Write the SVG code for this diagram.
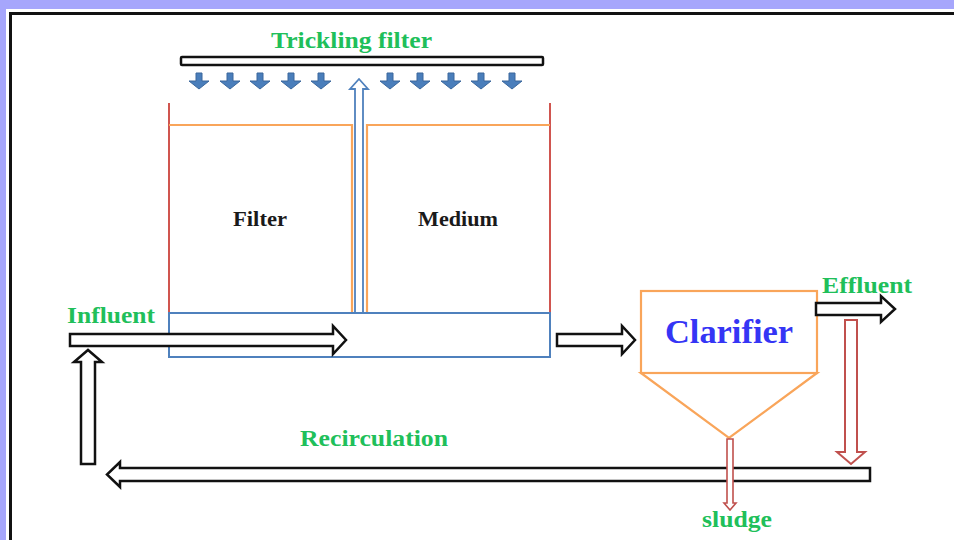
<svg xmlns="http://www.w3.org/2000/svg" xmlns:xlink="http://www.w3.org/1999/xlink" width="954" height="540" viewBox="0 0 954 540">
  <style>
    .lbl { font-family: "Liberation Serif", "Times New Roman", serif; font-weight: bold; fill: #20bf5a; }
    .blk { font-family: "Liberation Serif", "Times New Roman", serif; font-weight: bold; fill: #1a1a1a; }
    .hollow { fill: #ffffff; stroke: #111111; stroke-width: 2.5; stroke-linejoin: miter; }
    .red { fill: #ffffff; stroke: #c0504d; stroke-width: 2; }
    .orange { fill: none; stroke: #f9a55a; stroke-width: 2.2; }
    .wall { fill: none; stroke: #d0554f; stroke-width: 2; }
    .drop { fill: #4a7ebb; stroke: #3a679c; stroke-width: 1; }
  </style>
  <defs>
    <path id="drop" class="drop" d="M -3 0 L 3 0 L 3 8 L 10 8 L 0 16 L -10 8 L -3 8 Z"/>
  </defs>

  <!-- frame -->
  <rect x="0" y="0" width="954" height="540" fill="#a6a6fc"/>
  <rect x="6" y="9" width="948" height="531" fill="#ffffff"/>
  <rect x="10.5" y="13.5" width="960" height="540" fill="#ffffff" stroke="#111111" stroke-width="3"/>

  <g id="title">
    <text class="lbl" x="351.5" y="48" font-size="24" text-anchor="middle" textLength="161" lengthAdjust="spacingAndGlyphs">Trickling filter</text>
  </g>

  <g id="distributor">
    <rect x="181" y="57" width="362" height="8" rx="1" fill="#ffffff" stroke="#111111" stroke-width="2.5"/>
    <use xlink:href="#drop" x="199" y="73"/>
    <use xlink:href="#drop" x="230" y="73"/>
    <use xlink:href="#drop" x="260" y="73"/>
    <use xlink:href="#drop" x="291" y="73"/>
    <use xlink:href="#drop" x="321" y="73"/>
    <use xlink:href="#drop" x="390" y="73"/>
    <use xlink:href="#drop" x="420" y="73"/>
    <use xlink:href="#drop" x="451" y="73"/>
    <use xlink:href="#drop" x="481" y="73"/>
    <use xlink:href="#drop" x="512" y="73"/>
  </g>

  <g id="filter-bed">
    <line class="wall" x1="169" y1="103" x2="169" y2="313"/>
    <line class="wall" x1="550" y1="103" x2="550" y2="313"/>
    <polyline class="orange" points="169,125 352,125 352,312"/>
    <polyline class="orange" points="367,312 367,125 550,125"/>
    <text class="blk" x="260" y="226" font-size="21" text-anchor="middle" textLength="54" lengthAdjust="spacingAndGlyphs">Filter</text>
    <text class="blk" x="458" y="226" font-size="21" text-anchor="middle" textLength="80" lengthAdjust="spacingAndGlyphs">Medium</text>
  </g>

  <g id="underdrain">
    <rect x="169" y="313" width="381" height="44" fill="#ffffff" stroke="#4f81bd" stroke-width="2"/>
  </g>

  <g id="clarifier">
    <rect class="orange" x="641" y="291" width="176" height="82" fill="#ffffff"/>
    <polygon class="orange" points="641,373 817,373 729,438"/>
    <text x="729" y="343" font-family="'Liberation Serif', 'Times New Roman', serif" font-weight="bold" font-size="33" fill="#3535f5" text-anchor="middle" textLength="128" lengthAdjust="spacingAndGlyphs">Clarifier</text>
  </g>

  <g id="labels">
    <text class="lbl" x="67" y="323" font-size="24" textLength="88" lengthAdjust="spacingAndGlyphs">Influent</text>
    <text class="lbl" x="300" y="446" font-size="24" textLength="148" lengthAdjust="spacingAndGlyphs">Recirculation</text>
    <text class="lbl" x="822" y="293" font-size="24" textLength="90" lengthAdjust="spacingAndGlyphs">Effluent</text>
    <text class="lbl" x="702" y="527" font-size="24" textLength="70" lengthAdjust="spacingAndGlyphs">sludge</text>
  </g>

  <g id="connectors">
    <!-- central riser pipe -->
    <polygon points="355,313 355,89 350,89 359,79 368,89 363,89 363,313" fill="#ffffff" stroke="#4f81bd" stroke-width="1.8"/>
    <!-- influent -->
    <polygon class="hollow" points="70,334 333,334 333,326 346,340 333,354 333,346 70,346"/>
    <!-- to clarifier -->
    <polygon class="hollow" points="557,334 622,334 622,326 635,340 622,354 622,346 557,346"/>
    <!-- effluent -->
    <polygon class="hollow" points="816,303 881,303 881,296 895,309 881,322 881,315 816,315"/>
    <!-- effluent split down (red) -->
    <polygon class="red" points="845,320 857,320 857,452 865,452 851,464 837,452 845,452"/>
    <!-- recirculation return -->
    <polygon class="hollow" points="870,468 870,481 120,481 120,487 107,474.5 120,462 120,468"/>
    <!-- up to influent -->
    <polygon class="hollow" points="81,464 81,362 74,362 88,350 102,362 95,362 95,464"/>
    <!-- sludge draw-off -->
    <polygon points="727,439 733,439 733,503 736,503 730,510 724,503 727,503" fill="#ffffff" stroke="#c0504d" stroke-width="1.6"/>
  </g>
</svg>
